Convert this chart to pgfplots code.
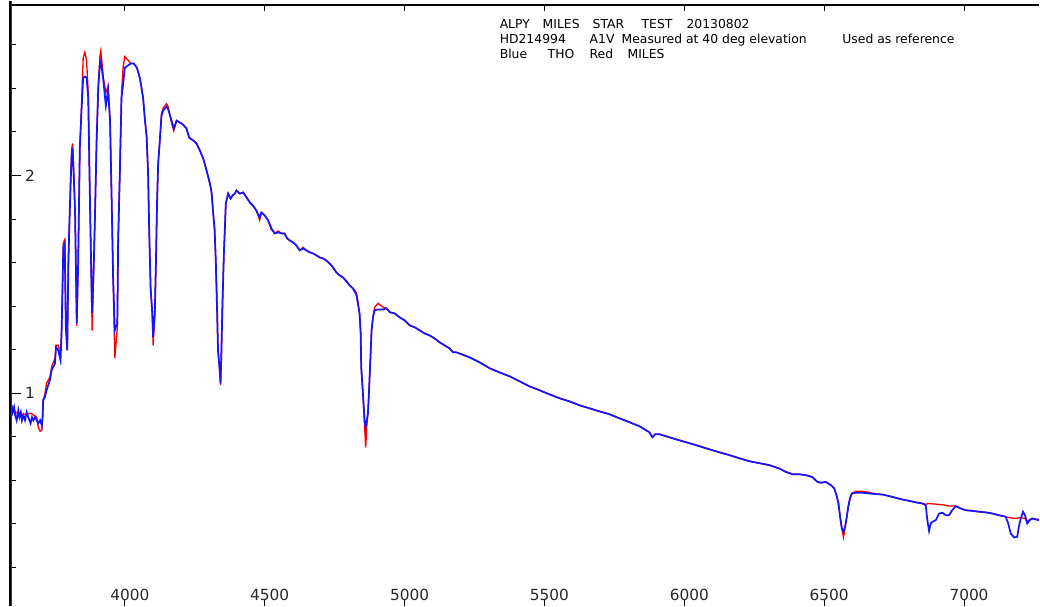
\documentclass[border=0pt]{standalone}
\usepackage{pgfplots}
\pgfplotsset{compat=1.18}
\usepackage{pgfplotstable}
\usepackage{fontspec}
\setmainfont{DejaVu Sans}
\definecolor{specred}{RGB}{255,0,0}
\definecolor{specblue}{RGB}{20,20,255}
\definecolor{tickgray}{RGB}{40,40,40}
\definecolor{axred}{RGB}{190,0,0}
\newcommand{\annot}{\fontsize{9.3}{11}\selectfont}
\newcommand{\tickf}{\fontsize{11.5}{13}\selectfont}

\pgfplotstableread{
lam blue red
3595 0.945 0.945
3599 0.913 0.930
3604 0.936 0.922
3608 0.899 0.915
3613 0.876 0.910
3619 0.922 0.908
3623 0.890 0.908
3628 0.913 0.906
3632 0.876 0.905
3637 0.899 0.904
3643 0.876 0.904
3649 0.913 0.904
3656 0.885 0.906
3663 0.862 0.908
3668 0.890 0.905
3673 0.876 0.900
3679 0.890 0.896
3685 0.876 0.890
3690 0.862 0.845
3697 0.876 0.826
3703 0.853 0.830
3706 0.890 0.900
3708 0.968 0.968
3714 0.982 0.995
3720 1.014 1.046
3732 1.060 1.073
3738 1.106 1.120
3750 1.136 1.161
3754 1.212 1.220
3762 1.197 1.220
3770 1.151 1.180
3774 1.289 1.300
3780 1.671 1.690
3785 1.687 1.705
3789 1.304 1.304
3794 1.197 1.197
3798 1.596 1.596
3801 1.748 1.748
3806 1.963 1.963
3810 2.101 2.120
3813 2.128 2.147
3818 1.977 1.990
3822 1.826 1.826
3828 1.321 1.310
3833 1.596 1.596
3839 2.128 2.128
3845 2.298 2.320
3851 2.450 2.540
3857 2.454 2.566
3863 2.450 2.530
3869 2.358 2.380
3875 1.899 1.899
3881 1.472 1.440
3883 1.367 1.289
3889 1.596 1.596
3893 1.807 1.807
3899 2.161 2.161
3905 2.404 2.420
3911 2.514 2.550
3914 2.528 2.573
3923 2.436 2.450
3932 2.321 2.380
3937 2.367 2.400
3940 2.390 2.413
3947 2.252 2.260
3953 1.872 1.872
3958 1.532 1.532
3964 1.289 1.161
3973 1.321 1.300
3976 1.702 1.702
3982 2.009 2.009
3988 2.358 2.380
3994 2.422 2.500
4000 2.495 2.546
4011 2.505 2.530
4021 2.514 2.514
4032 2.514 2.514
4043 2.495 2.495
4054 2.445 2.445
4065 2.358 2.358
4071 2.266 2.266
4078 2.174 2.174
4083 2.009 2.009
4087 1.748 1.748
4092 1.486 1.486
4098 1.367 1.367
4101 1.257 1.220
4107 1.367 1.367
4111 1.596 1.596
4115 1.872 1.872
4119 2.055 2.055
4125 2.161 2.161
4131 2.275 2.285
4137 2.298 2.310
4149 2.317 2.330
4155 2.303 2.315
4167 2.252 2.240
4175 2.216 2.206
4185 2.252 2.252
4197 2.243 2.243
4208 2.234 2.234
4220 2.216 2.216
4230 2.174 2.174
4244 2.161 2.161
4256 2.147 2.150
4268 2.115 2.115
4280 2.078 2.078
4292 2.023 2.023
4304 1.963 1.963
4310 1.922 1.922
4315 1.839 1.839
4321 1.748 1.748
4325 1.610 1.610
4330 1.367 1.367
4333 1.197 1.197
4339 1.106 1.106
4342 1.046 1.037
4345 1.183 1.183
4349 1.413 1.413
4354 1.642 1.642
4361 1.872 1.872
4369 1.917 1.917
4378 1.894 1.894
4385 1.908 1.908
4393 1.917 1.917
4399 1.931 1.931
4411 1.917 1.917
4423 1.922 1.922
4435 1.899 1.899
4447 1.876 1.876
4458 1.862 1.862
4470 1.839 1.839
4482 1.807 1.795
4488 1.830 1.830
4500 1.817 1.817
4512 1.794 1.794
4524 1.757 1.750
4536 1.734 1.734
4548 1.739 1.745
4560 1.734 1.734
4571 1.734 1.734
4580 1.711 1.711
4589 1.702 1.702
4601 1.693 1.693
4613 1.679 1.679
4625 1.656 1.656
4637 1.665 1.670
4649 1.656 1.656
4661 1.647 1.647
4673 1.642 1.642
4685 1.633 1.633
4696 1.624 1.624
4708 1.619 1.619
4720 1.610 1.610
4732 1.596 1.596
4744 1.578 1.578
4756 1.555 1.555
4768 1.541 1.541
4780 1.532 1.532
4792 1.514 1.514
4804 1.495 1.495
4815 1.482 1.482
4821 1.468 1.475
4828 1.450 1.460
4833 1.413 1.420
4839 1.367 1.367
4843 1.275 1.275
4845 1.119 1.119
4851 1.000 1.000
4857 0.876 0.850
4861 0.844 0.752
4865 0.876 0.850
4869 0.908 0.908
4873 1.014 1.014
4878 1.165 1.165
4882 1.289 1.289
4887 1.349 1.349
4893 1.381 1.395
4905 1.385 1.413
4923 1.385 1.395
4935 1.390 1.390
4947 1.372 1.372
4964 1.367 1.367
4982 1.349 1.349
5000 1.335 1.335
5018 1.312 1.312
5036 1.303 1.303
5054 1.289 1.289
5071 1.275 1.275
5089 1.266 1.266
5107 1.252 1.252
5125 1.234 1.234
5143 1.220 1.220
5161 1.206 1.206
5173 1.188 1.188
5185 1.188 1.188
5196 1.183 1.183
5232 1.165 1.165
5268 1.142 1.142
5304 1.115 1.115
5339 1.096 1.096
5375 1.078 1.078
5411 1.055 1.055
5446 1.032 1.032
5482 1.014 1.014
5518 0.995 0.995
5554 0.977 0.977
5589 0.963 0.963
5625 0.945 0.945
5661 0.931 0.931
5696 0.917 0.917
5732 0.904 0.904
5768 0.885 0.885
5804 0.867 0.867
5839 0.849 0.849
5875 0.821 0.821
5886 0.798 0.798
5896 0.812 0.812
5911 0.812 0.812
5946 0.798 0.798
5982 0.784 0.784
6018 0.771 0.771
6054 0.757 0.757
6089 0.743 0.743
6125 0.729 0.729
6161 0.716 0.716
6196 0.702 0.702
6232 0.688 0.688
6268 0.679 0.679
6304 0.670 0.670
6339 0.655 0.655
6363 0.639 0.639
6387 0.628 0.628
6411 0.628 0.628
6435 0.624 0.624
6458 0.615 0.615
6476 0.593 0.593
6488 0.589 0.589
6506 0.593 0.593
6524 0.578 0.578
6536 0.563 0.563
6544 0.532 0.532
6551 0.495 0.495
6557 0.433 0.433
6563 0.381 0.381
6569 0.364 0.339
6575 0.387 0.387
6581 0.433 0.433
6586 0.478 0.478
6592 0.517 0.517
6599 0.540 0.540
6613 0.543 0.550
6637 0.543 0.550
6661 0.540 0.545
6685 0.537 0.537
6708 0.535 0.535
6732 0.528 0.528
6756 0.520 0.520
6780 0.512 0.512
6804 0.506 0.506
6828 0.499 0.499
6851 0.494 0.494
6863 0.486 0.490
6869 0.417 0.492
6875 0.368 0.494
6881 0.402 0.493
6887 0.410 0.492
6899 0.417 0.491
6911 0.448 0.489
6923 0.451 0.488
6935 0.440 0.485
6946 0.440 0.482
6958 0.463 0.482
6970 0.482 0.482
6988 0.471 0.471
7006 0.463 0.463
7030 0.460 0.460
7054 0.456 0.456
7078 0.453 0.453
7101 0.448 0.448
7125 0.440 0.440
7149 0.433 0.433
7158 0.402 0.430
7167 0.356 0.428
7179 0.338 0.426
7190 0.341 0.426
7196 0.387 0.428
7203 0.425 0.429
7211 0.456 0.427
7218 0.440 0.425
7226 0.402 0.410
7235 0.417 0.420
7244 0.425 0.425
7256 0.421 0.421
7268 0.417 0.421
}\spec

\begin{document}
\begin{tikzpicture}
\fill[white] (-7.5pt,0pt) rectangle (772.5pt,454.5pt);
\pgfplotsset{common/.style={width=772.5pt, height=451.5pt, scale only axis,
  at={(0pt,0pt)}, anchor=south west,
  xmin=3589.3, xmax=7267.9, ymin=0.0229, ymax=2.7844,
  axis line style={draw=none}, tick align=inside,
  tick style={black, line width=0.75pt}}}
% y ticks
\begin{axis}[common, clip=false, xtick=\empty,
  ytick={1,2}, yticklabels={1,2},
  minor ytick={0.2,0.4,0.6,0.8,1.2,1.4,1.6,1.8,2.2,2.4,2.6},
  ytick pos=left, major tick length=8.25pt, minor tick length=4.5pt,
  yticklabel style={anchor=west, inner sep=0pt, xshift=11.25pt, font=\tickf, text=tickgray}]
\end{axis}
% data
\begin{axis}[common, name=main, xtick=\empty, ytick=\empty]
\addplot[specred, line width=1.0pt] table[x=lam, y=red] {\spec};
\addplot[specblue, line width=1.3pt] table[x=lam, y=blue] {\spec};
\end{axis}
% x ticks (top and bottom) with labels
\begin{axis}[common, clip=false, ytick=\empty,
  xtick={4000,4500,5000,5500,6000,6500,7000},
  xticklabels={4000,4500,5000,5500,6000,6500,7000},
  xtick pos=both, major tick length=4.5pt,
  xticklabel style={anchor=base, yshift=4.5pt, xshift=3.75pt, font=\tickf, text=tickgray}]
\end{axis}
\draw[black, line width=1.6pt] (0pt,451.5pt) -- (772.5pt,451.5pt);
\draw[black, line width=0.8pt] (0pt,0pt) -- (0pt,454.5pt);
\draw[axred, line width=1.0pt] (1.2pt,0pt) -- (1.2pt,454.5pt);
\begin{scope}[every node/.style={anchor=base west, inner sep=0pt, font=\annot, text=black}]
\node at (367.5pt,433.5pt) {ALPY};
\node at (399.75pt,433.5pt) {MILES};
\node at (437.25pt,433.5pt) {STAR};
\node at (474pt,433.5pt) {TEST};
\node at (507.75pt,433.5pt) {20130802};
\node at (367.5pt,422.25pt) {HD214994};
\node at (435pt,422.25pt) {A1V};
\node at (459pt,422.25pt) {Measured at 40 deg elevation};
\node at (624.75pt,422.25pt) {Used as reference};
\node at (367.5pt,411pt) {Blue};
\node at (403.5pt,411pt) {THO};
\node at (435pt,411pt) {Red};
\node at (463.5pt,411pt) {MILES};
\end{scope}
\end{tikzpicture}
\end{document}
